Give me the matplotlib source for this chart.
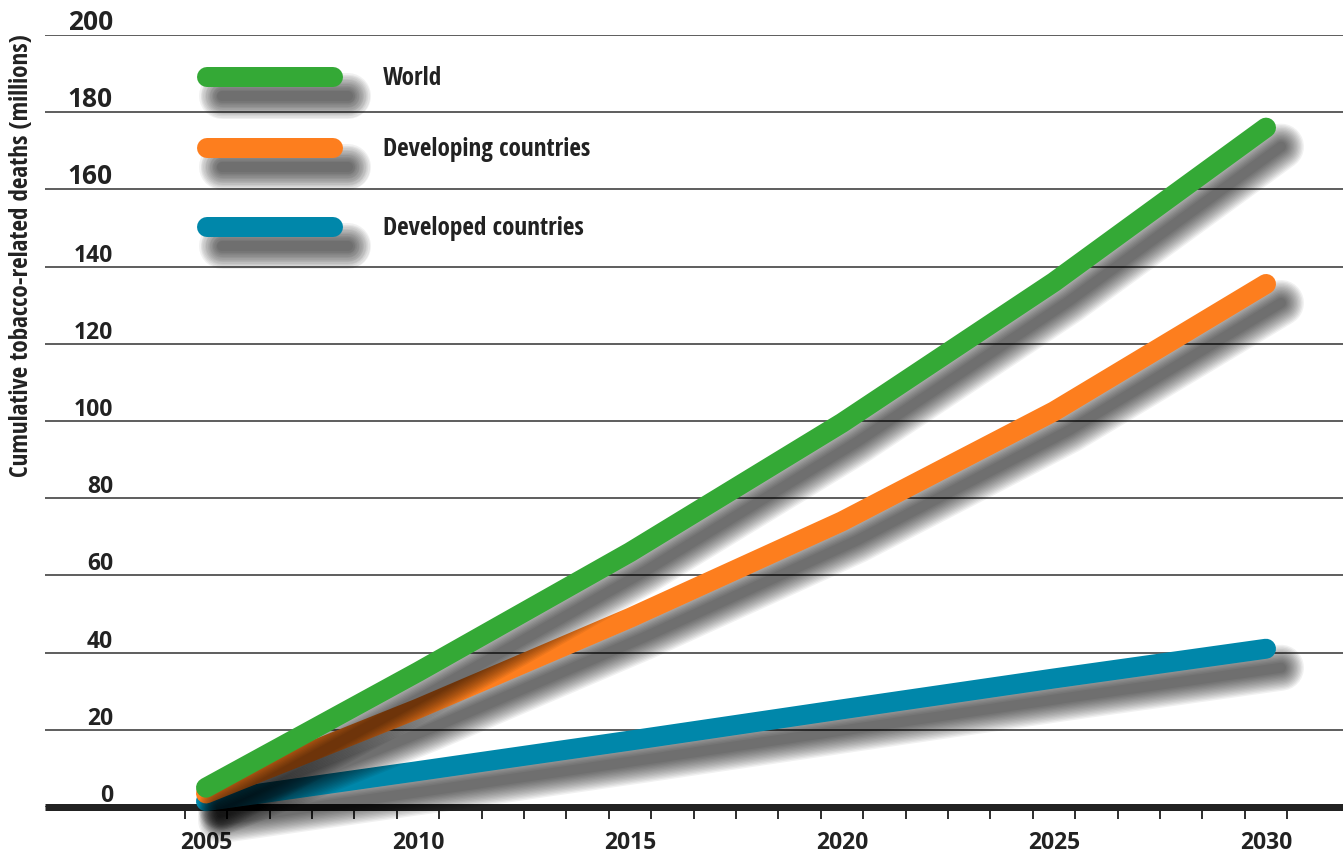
import numpy as np
import matplotlib
matplotlib.use("Agg")
import matplotlib.pyplot as plt
from matplotlib import font_manager as fm
from matplotlib.transforms import offset_copy, blended_transform_factory

# data (millions)
years = [2005, 2010, 2015, 2020, 2025, 2030]
world = [5, 35, 66, 99.5, 136, 176]
developing = [3.5, 25.5, 49, 74, 102.5, 135.5]
developed = [1.5, 9.3, 17.2, 25.3, 33.3, 41]

series_names = ["World", "Developing countries", "Developed countries"]
series_colors = ["#34a936", "#fd7e1e", "#0087aa"]

y_ticks = [0, 20, 40, 60, 80, 100, 120, 140, 160, 180, 200]
x_labels = [2005, 2010, 2015, 2020, 2025, 2030]
y_title = "Cumulative tobacco-related deaths (millions)"

W, H, DPI = 1343, 856, 100
TEXT = "#222222"


def px(v):
    # pixels -> points
    return v * 72.0 / DPI


names = {f.name for f in fm.fontManager.ttflist}


def pick(*cands):
    return next((c for c in cands if c in names), "DejaVu Sans")


NUM_FONT = pick("Open Sans", "Noto Sans", "DejaVu Sans")
TXT_FONT = pick("Open Sans Condensed", "Roboto Condensed", "Liberation Sans Narrow", "Open Sans")

fig = plt.figure(figsize=(W / DPI, H / DPI), dpi=DPI, facecolor="white")
ax = fig.add_axes([45 / W, (H - 807) / H, 1 - 45 / W, (807 - 35) / H])
ax.set_ylim(0, 200)
ax.set_xlim(2005 - (206 - 45) / 42.4, 2005 + (W - 206) / 42.4)

for s in ("top", "right", "left"):
    ax.spines[s].set_visible(False)
ax.spines["bottom"].set_linewidth(px(7))
ax.spines["bottom"].set_color("#222222")
ax.spines["bottom"].set_capstyle("butt")

ax.set_yticks(y_ticks)
ax.tick_params(axis="y", left=False, labelleft=False)
ax.grid(axis="y", color="#3a3a3a", lw=px(1.6))
ax.set_axisbelow(True)

ax.set_xticks(x_labels)
ax.set_xticklabels([str(v) for v in x_labels], fontsize=16.5, fontweight="bold",
                   family=NUM_FONT, color=TEXT)
ax.set_xticks(np.arange(2004.5, 2030.6, 1), minor=True)
ax.tick_params(axis="x", which="major", length=0, pad=px(24))
ax.tick_params(axis="x", which="minor", length=px(12), width=px(2), color="#333333",
               direction="out")

# y labels sit above their gridline
ytr = offset_copy(blended_transform_factory(ax.transAxes, ax.transData), x=0, y=5, units="dots")
for v in y_ticks:
    ax.text((113 - 45) / (W - 45), v, str(v), transform=ytr, ha="right", va="baseline",
            fontsize=19 if v >= 160 else 16.5, fontweight="bold", family=NUM_FONT, color=TEXT)

renderer = fig.canvas.get_renderer()


def fit_size(text, family, target_px, base=12.0):
    t = fig.text(0, 0, text, fontsize=base, family=family, fontweight="bold")
    w = t.get_window_extent(renderer=renderer).width
    t.remove()
    return base * target_px / w


SH_DX, SH_DY = 15, 19
LW = 20


def shadow(x, y, transform, z):
    # soft drop shadow: stacked translucent strokes, widest first
    tr = offset_copy(transform, x=SH_DX, y=-SH_DY, units="dots")
    for w in np.linspace(LW + 26, LW - 10, 14):
        ax.plot(x, y, color="black", alpha=0.055, lw=px(w), solid_capstyle="round",
                transform=tr, zorder=z, clip_on=False)


# lines: blue first, green on top
values = [world, developing, developed]
for i in (2, 1, 0):
    z = 10 + (2 - i) * 2
    shadow(years, values[i], ax.transData, z)
    ax.plot(years, values[i], color=series_colors[i], lw=px(LW), solid_capstyle="round",
            solid_joinstyle="round", zorder=z + 1, clip_on=False)

# legend
leg_size = fit_size("Developing countries", TXT_FONT, 207)
leg_rows = [77, 148, 227]


def ax_xy(xp, yp):
    return (xp - 45) / (W - 45), (807 - yp) / (807 - 35)


for name, col, row in zip(series_names, series_colors, leg_rows):
    (x0, y0), (x1, _) = ax_xy(207, row), ax_xy(333, row)
    shadow([x0, x1], [y0, y0], ax.transAxes, 20)
    ax.plot([x0, x1], [y0, y0], color=col, lw=px(LW), solid_capstyle="round",
            transform=ax.transAxes, zorder=21, clip_on=False)
    tx, ty = ax_xy(383, row + 8)
    ax.text(tx, ty, name, transform=ax.transAxes, ha="left", va="baseline",
            fontsize=leg_size, fontweight="bold", family=TXT_FONT, color=TEXT)

fig.text(22 / W, 1 - 256 / H, y_title, rotation=90, ha="center", va="center",
         fontsize=fit_size(y_title, TXT_FONT, 443), fontweight="bold", family=TXT_FONT,
         color=TEXT)

fig.savefig("out.png", dpi=DPI, facecolor="white")
